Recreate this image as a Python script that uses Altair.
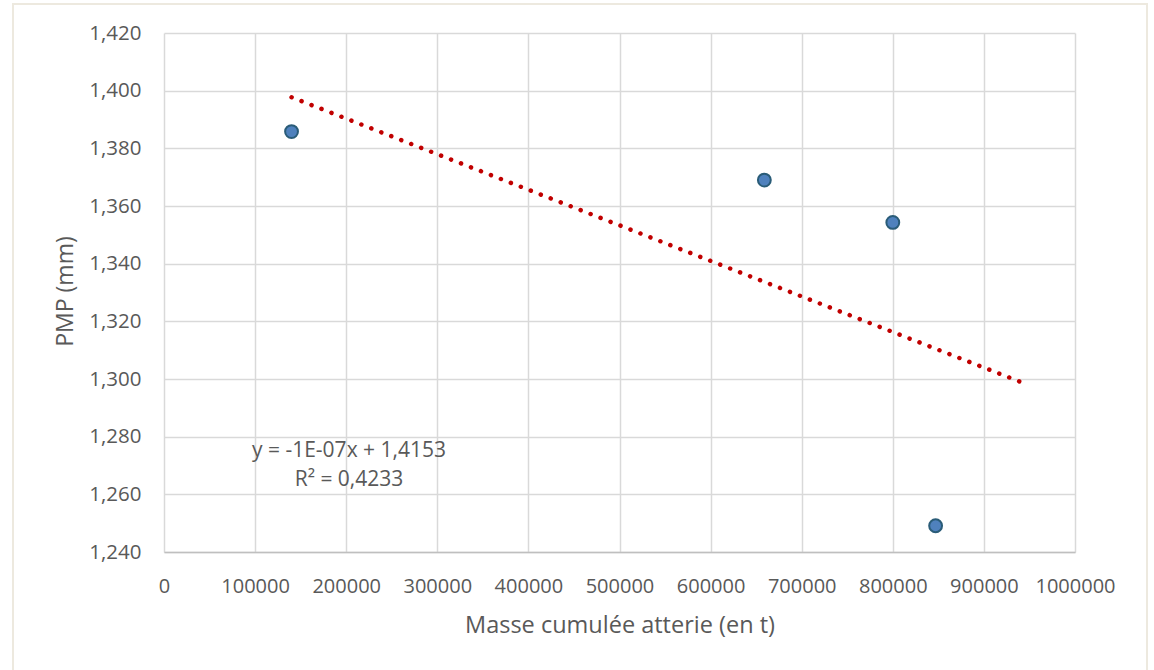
import altair as alt
import pandas as pd

# Data
masse = [140000, 659000, 800000, 847000]
pmp = [1.3858, 1.3690, 1.3543, 1.2491]

x_ticks = [0, 100000, 200000, 300000, 400000, 500000, 600000, 700000, 800000, 900000, 1000000]
y_ticks = [1.24, 1.26, 1.28, 1.30, 1.32, 1.34, 1.36, 1.38, 1.40, 1.42]

trend_extent = [140000, 940000]
equation = ["y = -1E-07x + 1,4153", "R² = 0,4233"]

df = pd.DataFrame({"masse": masse, "pmp": pmp})

FONT = "Open Sans"
TXT = "#595959"
GRID = "#D9D9D9"

x_enc = alt.X(
    "masse:Q",
    scale=alt.Scale(domain=[0, 1000000], nice=False, zero=False),
    axis=alt.Axis(
        values=x_ticks,
        format="d",
        title="Masse cumulée atterie (en t)",
        ticks=False,
        labelPadding=24,
        labelFontSize=20,
        labelColor=TXT,
        labelFont=FONT,
        labelOverlap=False,
        labelFlush=False,
        grid=True,
        gridColor=GRID,
        gridWidth=1.5,
        domain=True,
        domainColor="#BFBFBF",
        domainWidth=1.5,
        titleFont=FONT,
        titleFontSize=23.5,
        titleFontWeight="normal",
        titleColor=TXT,
        titleBaseline="alphabetic",
        titleY=80,
    ),
)

y_enc = alt.Y(
    "pmp:Q",
    scale=alt.Scale(domain=[1.24, 1.42], nice=False, zero=False),
    axis=alt.Axis(
        values=y_ticks,
        labelExpr="replace(format(datum.value, '.3f'), '.', ',')",
        title="PMP (mm)",
        ticks=False,
        labelPadding=23,
        labelFontSize=20.5,
        labelColor=TXT,
        labelFont=FONT,
        labelOverlap=False,
        labelFlush=False,
        grid=True,
        gridColor=GRID,
        gridWidth=1.5,
        domain=False,
        titleFont=FONT,
        titleFontSize=23,
        titleFontWeight="normal",
        titleColor=TXT,
        titleBaseline="alphabetic",
        titleAngle=-90,
        titleX=-92,
        titleY=258,
    ),
)

base = alt.Chart(df)

points = base.mark_point(
    filled=True, fill="#4F81BD", stroke="#2A5C78", strokeWidth=2, size=165, opacity=1
).encode(x=x_enc, y=y_enc)

trend = base.transform_regression(
    "masse", "pmp", method="linear", extent=trend_extent
).mark_line(
    color="#C00000", strokeWidth=4.5, strokeDash=[0.1, 10.6], strokeCap="round"
).encode(x=alt.X("masse:Q"), y=alt.Y("pmp:Q"))

label = alt.Chart(pd.DataFrame({"t": ["\n".join(equation)]})).mark_text(
    font=FONT, fontSize=21, color=TXT, align="center", baseline="middle", lineHeight=29,
    lineBreak="\n"
).encode(text="t:N", x=alt.value(185), y=alt.value(418))

border = alt.Chart(pd.DataFrame({"a": [0]})).mark_rect(
    fillOpacity=0, stroke="#EDE9DF", strokeWidth=2
).encode(x=alt.value(-151), x2=alt.value(983), y=alt.value(-29), y2=alt.value(700))

chart = alt.layer(border, trend, points, label).properties(
    width=911,
    height=519,
    padding={"left": 164, "top": 33, "right": 79, "bottom": 118},
    autosize=alt.AutoSizeParams(type="none"),
    background="white",
).configure_view(strokeWidth=0)

chart.save("out.html", embed_options={"renderer": "svg", "actions": False})
